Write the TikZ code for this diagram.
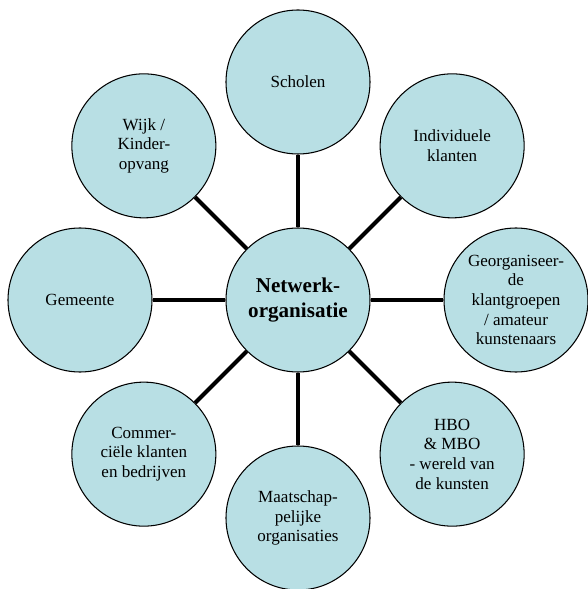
\documentclass[tikz,border=0pt]{standalone}
\usepackage{fontspec}
\setmainfont{Liberation Serif}
\usepackage{tikz}
\usetikzlibrary{positioning}
\definecolor{bubblecolor}{RGB}{184,223,228}
\tikzset{
  partner/.style={circle, draw=black, line width=0.6pt, fill=bubblecolor,
                  minimum size=2.88cm, inner sep=0pt, align=center,
                  font=\fontsize{9.7}{11.2}\selectfont},
  hub/.style={partner, font=\fontsize{12}{14.2}\selectfont\bfseries},
  spoke/.style={line width=2.3pt, draw=black},
}

\begin{document}
\begin{tikzpicture}
  \useasboundingbox (-5.96,-5.78) rectangle (5.78,6.0);

  % --- Centre ---
  \node[hub] (netwerk) at (0,0) {Netwerk-\\organisatie};

  % --- Partners ---
  \node[partner] (scholen)   at (90:4.36)  {Scholen};
  \node[partner] (individu)  at (45:4.36)  {Individuele\\klanten};
  \node[partner] (groepen)   at (0:4.36)   {Georganiseer-\\de\\klantgroepen\\/ amateur\\kunstenaars};
  \node[partner] (hbo)       at (-45:4.36) {HBO\\\& MBO\\- wereld van\\de kunsten};
  \node[partner] (maatsch)   at (-90:4.36) {Maatschap-\\pelijke\\organisaties};
  \node[partner] (commer)    at (-135:4.36) {Commer-\\ciële klanten\\en bedrijven};
  \node[partner] (gemeente)  at (180:4.36) {Gemeente};
  \node[partner] (wijk)      at (135:4.36) {Wijk /\\Kinder-\\opvang};

  % --- Spokes ---
  \draw[spoke] (netwerk) -- (scholen);
  \draw[spoke] (netwerk) -- (individu);
  \draw[spoke] (netwerk) -- (groepen);
  \draw[spoke] (netwerk) -- (hbo);
  \draw[spoke] (netwerk) -- (maatsch);
  \draw[spoke] (netwerk) -- (commer);
  \draw[spoke] (netwerk) -- (gemeente);
  \draw[spoke] (netwerk) -- (wijk);

\end{tikzpicture}
\end{document}
